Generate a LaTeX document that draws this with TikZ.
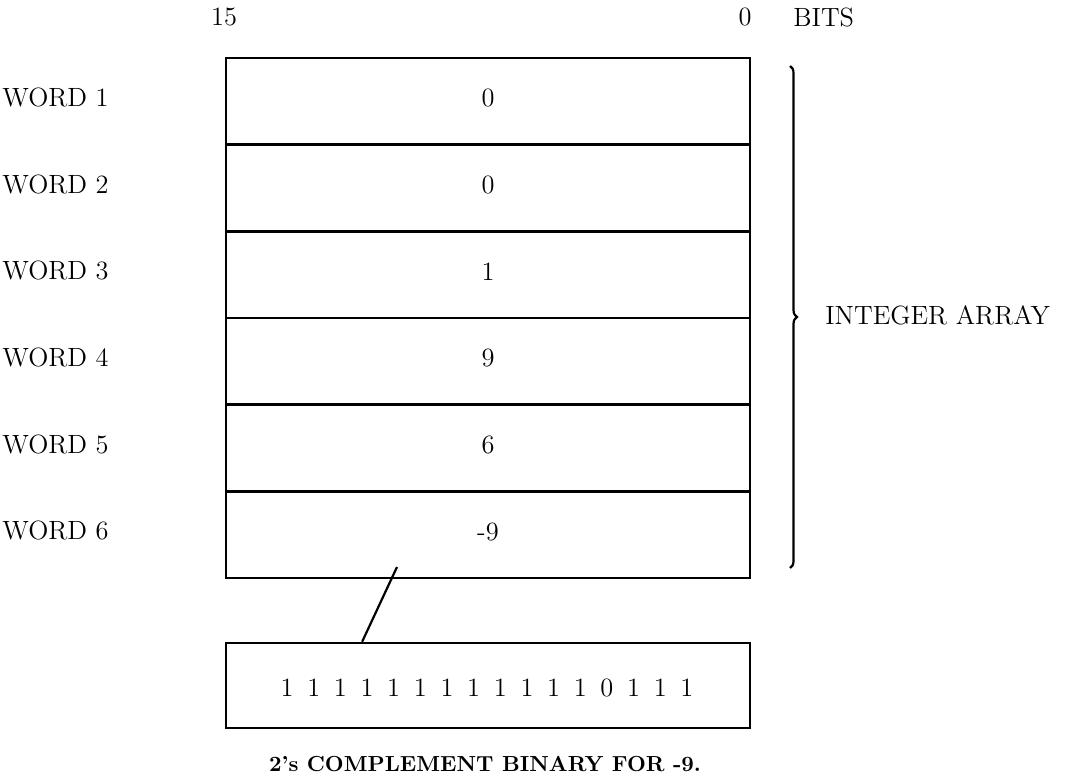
\documentclass[tikz,border=0pt]{standalone}
\usetikzlibrary{decorations.pathreplacing,calc}
\newcommand\bsp{\hspace{6.86pt}}
\begin{document}
\begin{tikzpicture}[x=0.5pt,y=-0.5pt,
  every node/.style={font=\fontsize{13.2}{15}\selectfont, inner sep=0pt},
  wordrow/.style={draw, line width=1.3pt, minimum width=262pt, minimum height=43.33pt},
  binbox/.style={draw, line width=1.3pt, minimum width=262pt, minimum height=42.5pt},
  lbl/.style={anchor=west},
  conn/.style={line width=1.1pt},
  bracestyle/.style={line width=1.1pt, decorate, decoration={brace, amplitude=3.5pt}}
]
\useasboundingbox (0,0) rectangle (1068,780);
% bit labels
\node (b15) at (224,17) {15};
\node (b0) at (745,17) {0};
\node[lbl] (bits) at (793,17) {BITS};
% rows
\foreach \i/\v in {1/0,2/0,3/1,4/9,5/6,6/-9}{
  \node[wordrow] (r\i) at (488,{58+86.67*(\i-0.5)}) {};
  \node (v\i) at (488,{58+86.67*(\i-0.5)-3}) {\v};
  \node[lbl] (w\i) at (2,{58+86.67*(\i-0.5)-4}) {WORD \i};
}
% brace
\draw[bracestyle] (790,66) -- (790,568);
\node[lbl] (ia) at (825,315) {INTEGER ARRAY};
% binary box
\node[binbox] (bin) at (488,685.5) {};
\node (bits16) at (487,688) {1\bsp1\bsp1\bsp1\bsp1\bsp1\bsp1\bsp1\bsp1\bsp1\bsp1\bsp1\bsp0\bsp1\bsp1\bsp1};
% connector
\coordinate (lt) at (397,567);
\draw[conn] (lt) -- ($(bin.north west)!0.261!(bin.north east)$);
% caption
\node[font=\fontsize{10.9}{13}\selectfont\bfseries] (cap) at (485,764) {2’s COMPLEMENT BINARY FOR -9.};
\end{tikzpicture}
\end{document}
